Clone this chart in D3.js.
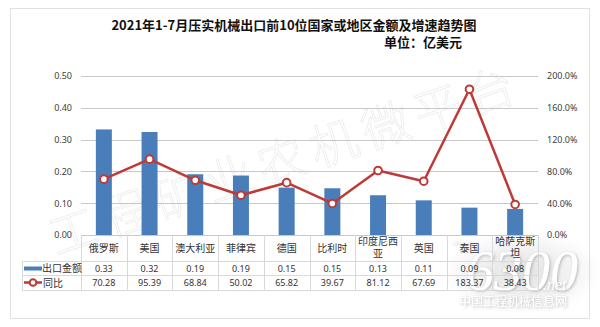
<!DOCTYPE html>
<html>
<head>
<meta charset="utf-8">
<script src="https://cdn.jsdelivr.net/npm/d3@7"></script>
<style>
  body { margin: 0; background: #fff; }
  svg { display: block; font-family: "Noto Sans CJK SC", "Noto Sans", sans-serif; }
</style>
</head>
<body>
<svg id="chart" width="600" height="327"></svg>
<script>
var categories = ["俄罗斯", "美国", "澳大利亚", "菲律宾", "德国", "比利时", "印度尼西亚", "英国", "泰国", "哈萨克斯坦"];
var categoryLines = [["俄罗斯"], ["美国"], ["澳大利亚"], ["菲律宾"], ["德国"], ["比利时"], ["印度尼西", "亚"], ["英国"], ["泰国"], ["哈萨克斯", "坦"]];
var exportValue = [0.332, 0.324, 0.191, 0.187, 0.149, 0.147, 0.125, 0.109, 0.086, 0.082];
var exportLabels = ["0.33", "0.32", "0.19", "0.19", "0.15", "0.15", "0.13", "0.11", "0.09", "0.08"];
var yoy = [70.28, 95.39, 68.84, 50.02, 65.82, 39.67, 81.12, 67.69, 183.37, 38.43];
var leftTicks = [0, 0.1, 0.2, 0.3, 0.4, 0.5];
var rightTicks = [0, 40, 80, 120, 160, 200];

var svg = d3.select("#chart");
var barColor = "#4a7ebb", lineColor = "#be3a37", gridColor = "#c8c8c8", tableColor = "#d9d9d9";

var plot = { left: 81, right: 538, top: 76, bottom: 235 };
var x = d3.scaleBand().domain(categories).range([plot.left, plot.right]).padding(0);
var yL = d3.scaleLinear().domain([0, 0.5]).range([plot.bottom, plot.top]);
var yR = d3.scaleLinear().domain([0, 200]).range([plot.bottom, plot.top]);

// chart frame
svg.append("rect").attr("x", 10.5).attr("y", 8.5).attr("width", 579).attr("height", 310)
    .attr("fill", "#fff").attr("stroke", "#e0e0e0");

// title
svg.append("text").attr("x", 294).attr("y", 30).attr("text-anchor", "middle")
    .attr("font-size", 13).attr("font-weight", "bold").attr("fill", "#111")
    .text("2021年1-7月压实机械出口前10位国家或地区金额及增速趋势图");
svg.append("text").attr("x", 462).attr("y", 47).attr("text-anchor", "end")
    .attr("font-size", 13).attr("font-weight", "bold").attr("fill", "#111")
    .text("单位：亿美元");

// watermark
var wm = svg.append("g").attr("transform", "translate(72,228) rotate(-18.6)");
wm.append("text").attr("x", 0).attr("y", 0).attr("dominant-baseline", "central")
    .attr("font-size", 48).attr("font-weight", 300).attr("letter-spacing", 7)
    .attr("fill", "none").attr("stroke", "#000").attr("stroke-opacity", 0.07).attr("stroke-width", 1)
    .attr("text-anchor", "start").attr("dx", -24)
    .text("工程矿业农机微平台");

// gridlines
svg.append("g").selectAll("line").data(leftTicks).join("line")
    .attr("x1", plot.left).attr("x2", plot.right)
    .attr("y1", function (d) { return Math.round(yL(d)) + 0.5; })
    .attr("y2", function (d) { return Math.round(yL(d)) + 0.5; })
    .attr("stroke", gridColor).attr("stroke-width", 1);

// left axis
var axisL = svg.append("g").attr("transform", "translate(" + (plot.left - 9) + ",0)")
    .call(d3.axisLeft(yL).tickValues(leftTicks).tickSize(0).tickPadding(0).tickFormat(d3.format(".2f")));
axisL.select(".domain").remove();
axisL.selectAll("text").attr("font-size", 9).attr("fill", "#404040").attr("font-family", "Noto Sans, sans-serif");

// right axis
var axisR = svg.append("g").attr("transform", "translate(" + (plot.right + 9) + ",0)")
    .call(d3.axisRight(yR).tickValues(rightTicks).tickSize(0).tickPadding(0).tickFormat(function (d) { return d.toFixed(1) + "%"; }));
axisR.select(".domain").remove();
axisR.selectAll("text").attr("font-size", 9).attr("fill", "#404040").attr("font-family", "Noto Sans, sans-serif");

// bars
var barW = 16;
svg.append("g").selectAll("rect").data(categories).join("rect")
    .attr("x", function (d) { return x(d) + x.bandwidth() / 2 - barW / 2; })
    .attr("y", function (d, i) { return yL(exportValue[i]); })
    .attr("width", barW)
    .attr("height", function (d, i) { return yL(0) - yL(exportValue[i]); })
    .attr("fill", barColor);

// line
var line = d3.line()
    .x(function (d, i) { return x(categories[i]) + x.bandwidth() / 2; })
    .y(function (d) { return yR(d); });
svg.append("path").datum(yoy).attr("d", line)
    .attr("fill", "none").attr("stroke", lineColor).attr("stroke-width", 2.5).attr("stroke-linejoin", "round");
svg.append("g").selectAll("circle").data(yoy).join("circle")
    .attr("cx", function (d, i) { return x(categories[i]) + x.bandwidth() / 2; })
    .attr("cy", function (d) { return yR(d); })
    .attr("r", 3.8).attr("fill", "#fff").attr("stroke", lineColor).attr("stroke-width", 2);

// 6300 logo watermark (under the table text)
var defs = svg.append("defs");
var grad = defs.append("radialGradient").attr("id", "glow");
grad.append("stop").attr("offset", "0%").attr("stop-color", "#999").attr("stop-opacity", 0.35);
grad.append("stop").attr("offset", "100%").attr("stop-color", "#999").attr("stop-opacity", 0);
var blur = defs.append("filter").attr("id", "shadow").attr("x", "-20%").attr("y", "-20%").attr("width", "140%").attr("height", "140%");
blur.append("feDropShadow").attr("dx", 1).attr("dy", 1).attr("stdDeviation", 1.5).attr("flood-color", "#777").attr("flood-opacity", 0.6);
var logo = svg.append("g").attr("opacity", 0.85);
logo.append("ellipse").attr("cx", 522).attr("cy", 272).attr("rx", 80).attr("ry", 42).attr("fill", "url(#glow)");
logo.append("text").attr("x", 452).attr("y", 244).attr("font-size", 9).attr("font-style", "italic")
    .attr("fill", "#fff").attr("filter", "url(#shadow)").attr("font-family", "Liberation Serif, serif").text("www.");
logo.append("text").attr("x", 466).attr("y", 290).attr("font-size", 56).attr("font-style", "italic")
    .attr("fill", "#fff").attr("filter", "url(#shadow)")
    .attr("font-family", "Liberation Serif, serif").text("6300");
logo.append("text").attr("x", 543).attr("y", 290).attr("font-size", 16).attr("font-style", "italic")
    .attr("fill", "#fff").attr("filter", "url(#shadow)").attr("font-family", "Liberation Serif, serif").text(".net");
logo.append("text").attr("x", 459).attr("y", 306).attr("font-size", 12)
    .attr("fill", "#fff").attr("filter", "url(#shadow)").text("中国工程机械信息网");

// data table
var rowY = [plot.bottom, 261.5, 275.5, 290.5];
var table = svg.append("g").attr("stroke", tableColor).attr("stroke-width", 1);
table.append("line").attr("x1", 22).attr("x2", plot.right).attr("y1", rowY[1]).attr("y2", rowY[1]);
table.append("line").attr("x1", 22).attr("x2", plot.right).attr("y1", rowY[2]).attr("y2", rowY[2]);
table.append("line").attr("x1", 22).attr("x2", plot.right).attr("y1", rowY[3]).attr("y2", rowY[3]);
table.append("line").attr("x1", 22.5).attr("x2", 22.5).attr("y1", rowY[1]).attr("y2", rowY[3]);
var colEdges = categories.map(function (d) { return x(d); }).concat([plot.right]);
table.selectAll(".col").data(colEdges).join("line").attr("class", "col")
    .attr("x1", function (d) { return Math.round(d) + 0.5; })
    .attr("x2", function (d) { return Math.round(d) + 0.5; })
    .attr("y1", rowY[0]).attr("y2", rowY[3]);

// category labels
var catG = svg.append("g").attr("font-size", 10).attr("fill", "#333").attr("text-anchor", "middle");
catG.selectAll("text").data(categoryLines).join("text")
    .attr("x", function (d, i) { return x(categories[i]) + x.bandwidth() / 2; })
    .attr("y", function (d) { return d.length > 1 ? 245 : 251.5; })
    .each(function (d) {
        var t = d3.select(this);
        d.forEach(function (s, j) {
            t.append("tspan").attr("x", t.attr("x")).attr("dy", j === 0 ? 0 : 12).text(s);
        });
    });

// values rows
var valG = svg.append("g").attr("font-size", 9).attr("fill", "#333").attr("text-anchor", "middle")
    .attr("font-family", "Noto Sans, sans-serif");
valG.selectAll(".v1").data(exportLabels).join("text").attr("class", "v1")
    .attr("x", function (d, i) { return x(categories[i]) + x.bandwidth() / 2; })
    .attr("y", 271.5).text(function (d) { return d; });
valG.selectAll(".v2").data(yoy).join("text").attr("class", "v2")
    .attr("x", function (d, i) { return x(categories[i]) + x.bandwidth() / 2; })
    .attr("y", 286).text(function (d) { return d.toFixed(2); });

// legend keys inside table
svg.append("rect").attr("x", 24).attr("y", 266.5).attr("width", 18).attr("height", 4).attr("fill", barColor);
svg.append("text").attr("x", 42).attr("y", 272).attr("font-size", 10).attr("fill", "#333").text("出口金额");
svg.append("line").attr("x1", 24).attr("x2", 42).attr("y1", 282.5).attr("y2", 282.5)
    .attr("stroke", lineColor).attr("stroke-width", 2.5);
svg.append("circle").attr("cx", 33).attr("cy", 282.5).attr("r", 3.3)
    .attr("fill", "#fff").attr("stroke", lineColor).attr("stroke-width", 2);
svg.append("text").attr("x", 43).attr("y", 286.5).attr("font-size", 10).attr("fill", "#333").text("同比");
</script>
</body>
</html>
